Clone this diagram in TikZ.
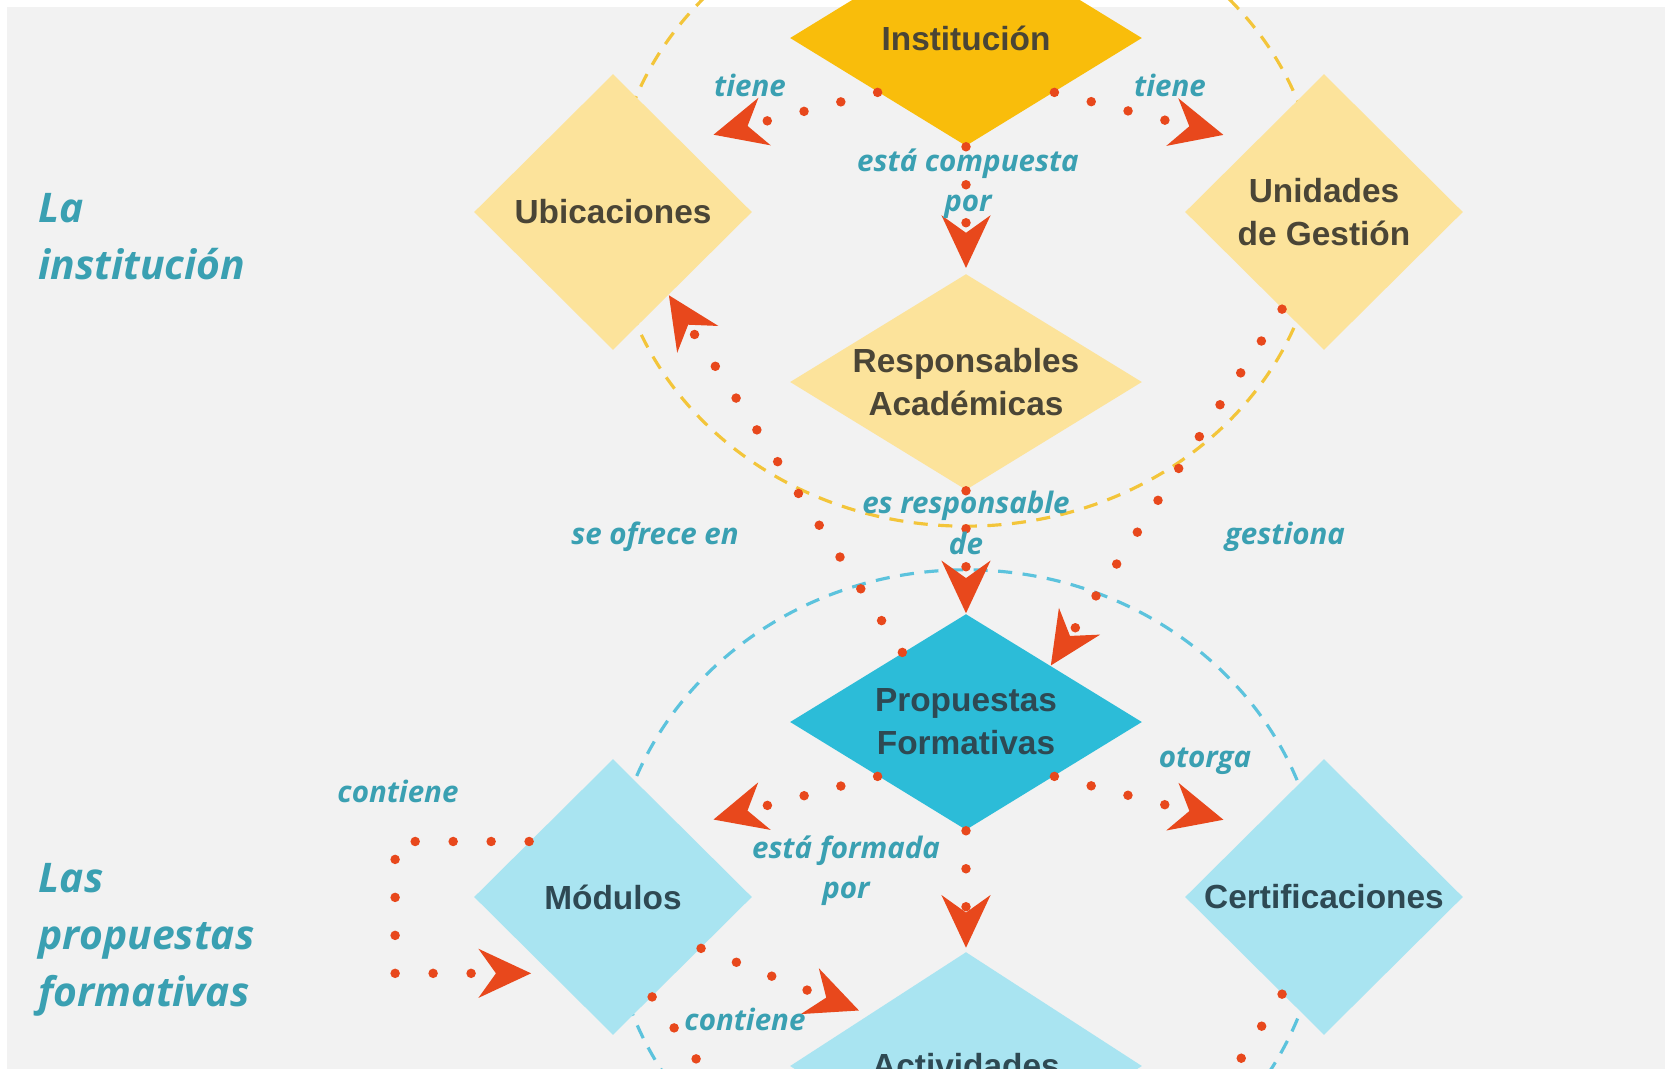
\documentclass[tikz,border=0pt]{standalone}
\usepackage{fontspec}
\setmainfont{Liberation Sans}
\newfontfamily\labelfont{Open Sans}
\usetikzlibrary{shapes.geometric,arrows.meta,calc}
\definecolor{bggray}{HTML}{F2F2F2}
\definecolor{instgold}{HTML}{F9BD0B}
\definecolor{paleyellow}{HTML}{FCE39B}
\definecolor{propblue}{HTML}{2CBCD8}
\definecolor{paleblue}{HTML}{A9E4F1}
\definecolor{arrowred}{HTML}{E8481C}
\definecolor{ringyellow}{HTML}{F3C53A}
\definecolor{ringblue}{HTML}{5CC3DD}
\definecolor{labelteal}{HTML}{3AA0B2}
\definecolor{darktext}{HTML}{4A4536}
\definecolor{slatetext}{HTML}{2E4953}

\begin{document}
\begin{tikzpicture}[
  x=0.01cm, y=-0.01cm,
  widebox/.style={diamond, aspect=1.7, inner sep=0pt, minimum width=3.52cm, minimum height=2.16cm, align=center, font=\fontsize{9.5}{12.2}\selectfont\bfseries},
  squarebox/.style={diamond, inner sep=0pt, minimum width=2.78cm, minimum height=2.76cm, align=center, font=\fontsize{9.5}{12.2}\selectfont\bfseries},
  rel/.style={font=\labelfont\fontsize{8.4}{11.5}\selectfont\bfseries\itshape, text=labelteal, align=center, inner sep=0pt},
  heading/.style={font=\labelfont\fontsize{11.6}{16.2}\selectfont\bfseries\itshape, text=labelteal, align=left, anchor=west, inner sep=0pt},
  link/.style={draw=arrowred, line width=2.7pt, line cap=round, dash pattern=on 0pt off 10.8pt},
  arrow/.style={link, -{Stealth[length=15pt, width=14pt, inset=5pt, line width=0pt]}},
  ring/.style={line width=0.9pt, dash pattern=on 4pt off 3pt}
]
\useasboundingbox (0,0) rectangle (1665,1069);
\clip (0,0) rectangle (1665,1069);
\fill[white] (0,0) rectangle (1665,1069);
\fill[bggray] (7,7) rectangle (1665,1069);

\draw[ring, draw=ringyellow] (966,210) ellipse [x radius=3.53cm, y radius=3.16cm];
\draw[ring, draw=ringblue] (966,900) ellipse [x radius=3.55cm, y radius=3.30cm];

\node[widebox, fill=instgold, text=darktext] (Inst) at (966,38) {Institución};
\node[squarebox, fill=paleyellow, text=darktext] (Ubic) at (613,212) {Ubicaciones};
\node[squarebox, fill=paleyellow, text=darktext] (Unid) at (1324,212) {Unidades\\de Gestión};
\node[widebox, fill=paleyellow, text=darktext] (Resp) at (966,382) {Responsables\\Académicas};
\node[widebox, fill=propblue, text=slatetext] (Prop) at (966,722) {Propuestas\\Formativas};
\node[squarebox, fill=paleblue, text=slatetext] (Mod) at (613,897) {Módulos};
\node[squarebox, fill=paleblue, text=slatetext] (Cert) at (1324,897) {Certificaciones};
\node[widebox, fill=paleblue, text=slatetext, minimum height=2.28cm] (Act) at (966,1066) {Actividades};

\coordinate (offL) at (775,1170);
\coordinate (offR) at (1170,1170);

\draw[arrow, shorten >=9pt] (Inst.south west) -- (Ubic.north east);
\draw[arrow, shorten >=9pt] (Inst.south east) -- (Unid.north west);
\draw[arrow, shorten >=1.5pt] (Inst.south) -- (Resp.north);
\draw[arrow] (Resp.south) -- (Prop.north);
\draw[arrow] ($(Prop.north)!0.36!(Prop.west)$) -- ($(Ubic.east)!0.6!(Ubic.south)$);
\draw[arrow] ($(Unid.west)!0.7!(Unid.south)$) -- ($(Prop.north)!0.48!(Prop.east)$);
\draw[arrow, shorten >=9pt] (Prop.south west) -- (Mod.north east);
\draw[arrow, shorten >=9pt] (Prop.south east) -- (Cert.north west);
\draw[arrow, shorten >=1pt] (Prop.south) -- (Act.north);
\draw[arrow, shorten >=5.4pt] ($(Mod.west)!0.4!(Mod.north)$) -- ++(-134,0) |- ($(Mod.west)!0.55!(Mod.south)$);
\draw[arrow, shorten >=3pt] ($(Mod.east)!0.37!(Mod.south)$) -- ($(Act.north)!0.55!(Act.west)$);
\draw[link] ($(Mod.east)!0.72!(Mod.south)$) -- (offL);
\draw[link] ($(Cert.west)!0.7!(Cert.south)$) -- (offR);

\node[rel] (tieneL) at (750,85) {tiene};
\node[rel] (tieneR) at (1170,85) {tiene};
\node[rel] (compuesta) at (968,184) {está compuesta\\por};
\node[rel] (responsable) at (966,523) {es responsable\\de};
\node[rel] (ofrece) at (655,537) {se ofrece en};
\node[rel] (gestiona) at (1285,537) {gestiona};
\node[rel] (otorga) at (1205,761) {otorga};
\node[rel] (formada) at (846,871) {está formada\\por};
\node[rel] (contieneL) at (398,791) {contiene};
\node[rel] (contieneR) at (745,1019) {contiene};

\node[heading] (tInst) at (38,237) {La\\institución};
\node[heading] (tProp) at (38,940) {Las\\propuestas\\formativas};
\end{tikzpicture}
\end{document}
